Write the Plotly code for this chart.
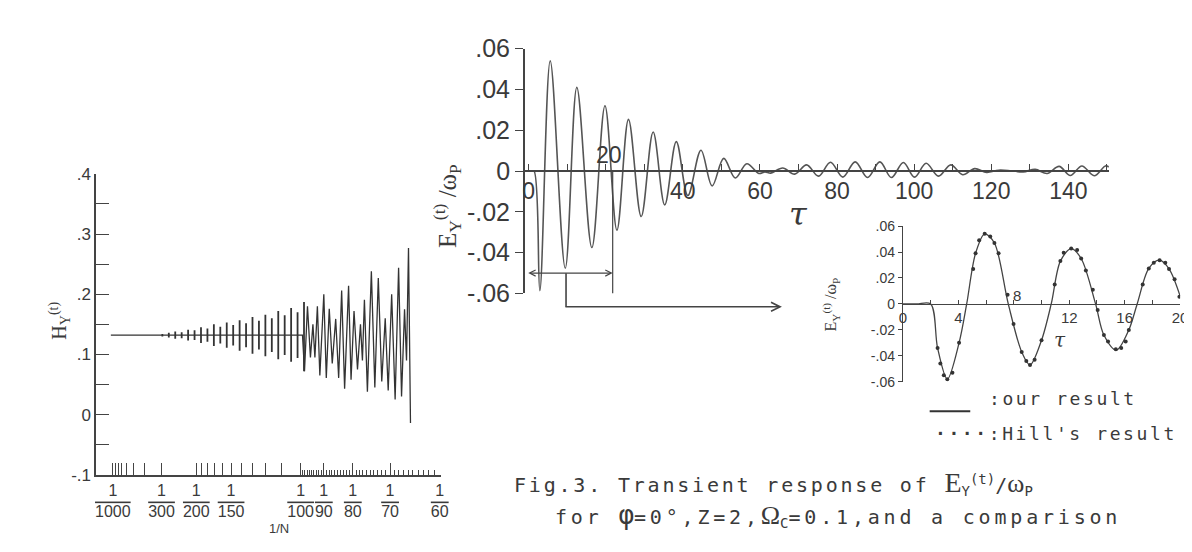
import plotly.graph_objects as go

W, H = 1192, 552
def px(x): return x / W
def py(y): return 1 - y / H

INK = "#3a3a3a"
SANS = "Liberation Sans"

# ---------------- left panel: H_Y^(t) versus 1/N ----------------
# continuous trace: flat start, centre line, then the large late oscillations
left_inv_n = [
    0.000905, 0.002804, 0.003279, 0.010090, 0.010185, 0.010328, 0.010470, 0.010589, 0.010684, 0.010803,
    0.010921, 0.011111, 0.011230, 0.011372, 0.011515, 0.011681, 0.011823, 0.011966, 0.012108, 0.012298,
    0.012416, 0.012559, 0.012725, 0.012868, 0.012962, 0.013057, 0.013200, 0.013390, 0.013556, 0.013722,
    0.013888, 0.014054, 0.014197, 0.014363, 0.014529, 0.014695, 0.014837, 0.014980, 0.015075, 0.015170,
    0.015265,
]
left_h = [
    0.132, 0.132, 0.132, 0.132, 0.072, 0.180, 0.095, 0.150, 0.095, 0.180,
    0.065, 0.200, 0.061, 0.176, 0.085, 0.159, 0.061, 0.206, 0.043, 0.214,
    0.058, 0.172, 0.075, 0.150, 0.090, 0.191, 0.038, 0.238, 0.045, 0.227,
    0.055, 0.160, 0.040, 0.200, 0.025, 0.244, 0.030, 0.175, 0.090, 0.277,
    -0.014,
]
# dense early oscillation: one bar per burst (1/N position, upper and lower extreme)
left_bar_inv_n = [0.0033735, 0.0036821, 0.0039906, 0.0042992, 0.0046077, 0.0049163, 0.0052248,
                  0.0055334, 0.0058419, 0.0061505, 0.0064590, 0.0067676, 0.0070762, 0.0073847,
                  0.0076933, 0.0080018, 0.0083104, 0.0086189, 0.0089275, 0.0092360, 0.0095446,
                  0.0098532, 0.0101617]
left_bar_top = [0.134, 0.136, 0.138, 0.137, 0.141, 0.140, 0.145, 0.143, 0.150, 0.146, 0.153,
                0.149, 0.157, 0.152, 0.162, 0.156, 0.166, 0.160, 0.172, 0.165, 0.177, 0.170, 0.187]
left_bar_bottom = [0.130, 0.128, 0.126, 0.127, 0.123, 0.124, 0.119, 0.121, 0.114, 0.118, 0.111,
                   0.115, 0.106, 0.112, 0.101, 0.108, 0.097, 0.104, 0.092, 0.099, 0.088, 0.094, 0.072]

tick_denoms = [1000, 900, 800, 700, 600, 500, 400, 300, 200, 190, 180, 170, 160,
               150, 140, 130, 120, 110, 100, 90, 80, 70, 60]
labeled_denoms = [1000, 300, 200, 150, 100, 90, 80, 70, 60]
minor_denoms = [n for n in range(61, 100) if n % 10 != 0]
left_yticks = [-0.1, -0.05, 0.0, 0.05, 0.1, 0.15, 0.2, 0.25, 0.3, 0.35, 0.4]
left_ylabels = ["-.1", "", "0", "", ".1", "", ".2", "", ".3", "", ".4"]

# ---------------- main panel: E_Y^(t)/omega_P versus tau ----------------
main_tau = [0, 0.7, 1.4, 2.9, 5.6, 9.5, 12.5, 16.4, 19.8, 22.9, 25.9,
            29.2, 32.3, 35.3, 38.3, 41.3, 44.7, 47.6, 50.6, 53.6, 56.6,
            59.7, 61.3, 62.8, 65.9, 69.0, 72.1, 75.2, 78.3, 81.5, 84.7,
            87.9, 91.1, 94.1, 97.2, 100.1, 103.1, 106.3, 109.5, 112.6, 115.7,
            118.8, 121.9, 125.2, 128.3, 131.4, 134.5, 137.6, 140.5, 143.5, 146.7,
            149.6, 150.5]
main_e = [0, 0, 0, -0.0586, 0.054, -0.0476, 0.041, -0.0375, 0.032, -0.029, 0.0253,
          -0.0223, 0.0191, -0.0166, 0.0144, -0.012, 0.0102, -0.0073, 0.0062, -0.0034, 0.0036,
          -0.0012, -0.0004, -0.001, 0.0015, -0.0015, 0.003, -0.0025, 0.0043, -0.003, 0.0045,
          -0.0032, 0.0045, -0.0032, 0.0042, -0.003, 0.0038, -0.0025, 0.003, -0.0018, 0.0012,
          -0.0007, 0.0004, 0.0001, -0.0004, 0.0008, -0.0012, 0.0023, -0.0022, 0.0025, -0.0023,
          0.0025, 0.002]
main_xticks = list(range(0, 151, 10))
main_xlabeled = [0, 40, 60, 80, 100, 120, 140]
e_ticks = [-0.06, -0.04, -0.02, 0.0, 0.02, 0.04, 0.06]
e_labels = ["-.06", "-.04", "-.02", "0", ".02", ".04", ".06"]

# ---------------- inset: 0 <= tau <= 20 ----------------
inset_tau = [0, 1.0, 2.0, 2.5, 3.2, 4.05, 4.6, 5.24, 5.9, 6.6, 7.6,
             8.57, 9.17, 10.0, 10.7, 11.36, 12.14, 12.86, 13.9, 14.5, 15.4,
             16.3, 16.9, 17.74, 18.5, 19.2, 20.0]
inset_e = [0, 0, 0, -0.034, -0.058, -0.030, 0, 0.039, 0.054, 0.047, 0,
           -0.037, -0.047, -0.028, 0, 0.033, 0.0427, 0.035, 0, -0.024, -0.0356,
           -0.020, 0, 0.0274, 0.0337, 0.027, 0.006]
hill_tau = [2.5, 2.7, 2.95, 3.2, 3.57, 4.05, 5.07, 5.24, 5.5, 5.9, 6.3, 6.6, 6.9,
            7.55, 7.98, 8.57, 8.9, 9.17, 9.5, 10.0, 10.95, 11.36, 11.6, 12.14, 12.57,
            12.86, 13.2, 13.7, 14.05, 14.5, 14.8, 15.36, 15.75, 16.07, 16.3, 17.3,
            17.74, 18.1, 18.52, 18.93, 19.2, 19.6, 19.95]
hill_e = [-0.034, -0.046, -0.055, -0.058, -0.053, -0.030, 0.027, 0.039, 0.049, 0.054,
          0.052, 0.047, 0.039, 0.007, -0.0155, -0.037, -0.044, -0.047, -0.043, -0.028,
          0.0150, 0.033, 0.0395, 0.0427, 0.0415, 0.035, 0.0257, 0.011, -0.0046, -0.024,
          -0.029, -0.035, -0.034, -0.029, -0.020, 0.0150, 0.0274, 0.0318, 0.0337, 0.0318,
          0.027, 0.019, 0.0056]
inset_xticks = list(range(0, 21, 2))
inset_xlabeled = [0, 4, 12, 16, 20]

fig = go.Figure()
fig.add_trace(go.Scatter(x=left_inv_n, y=left_h, mode="lines", xaxis="x", yaxis="y",
                         line=dict(color="#333", width=1.3)))
bx, byv = [], []
for u, top, bot in zip(left_bar_inv_n, left_bar_top, left_bar_bottom):
    bx += [u, u, None]
    byv += [bot, top, None]
fig.add_trace(go.Scatter(x=bx, y=byv, mode="lines", xaxis="x", yaxis="y",
                         line=dict(color="#333", width=1.8), connectgaps=False))
fig.add_trace(go.Scatter(x=main_tau, y=main_e, mode="lines", xaxis="x2", yaxis="y2",
                         line=dict(color="#555", width=1.6, shape="spline", smoothing=1.0)))
fig.add_trace(go.Scatter(x=inset_tau, y=inset_e, mode="lines", xaxis="x3", yaxis="y3",
                         line=dict(color="#444", width=1.3, shape="spline", smoothing=0.9)))
fig.add_trace(go.Scatter(x=hill_tau, y=hill_e, mode="markers", xaxis="x3", yaxis="y3",
                         marker=dict(color="#333", size=4)))

y2dom = [py(286), py(28)]
y3dom = [py(379), py(215)]

common = dict(showgrid=False, zeroline=False, showline=True, linecolor="#444",
              tickcolor="#444", tickangle=0)

fig.update_layout(
    width=W, height=H, margin=dict(l=0, r=0, t=0, b=0),
    paper_bgcolor="white", plot_bgcolor="rgba(0,0,0,0)", showlegend=False,
    xaxis=dict(common, domain=[px(85), px(433)], range=[0.0002, 0.01671], anchor="y",
               linewidth=1.5, ticks="inside", ticklen=12, tickwidth=1.2,
               tickvals=[1 / n for n in tick_denoms],
               ticktext=[("1<br><span style='text-decoration:overline'>%d</span>" % n)
                         if n in labeled_denoms else "" for n in tick_denoms],
               tickfont=dict(family=SANS, size=16, color=INK),
               minor=dict(tickvals=[1 / n for n in minor_denoms], ticks="inside",
                          ticklen=5, tickwidth=1, tickcolor="#444")),
    yaxis=dict(common, domain=[py(477), py(160)], range=[-0.1, 0.4], anchor="x",
               linewidth=1.5, ticks="inside", ticklen=13, tickwidth=1.2,
               tickvals=left_yticks, ticktext=left_ylabels,
               tickfont=dict(family=SANS, size=17, color=INK)),
    xaxis2=dict(common, domain=[px(518), px(1108)], range=[-1, 150.5], anchor="free",
                position=(y2dom[0] + y2dom[1]) / 2, linewidth=1.5, ticks="inside",
                ticklen=6, tickwidth=1.2, tickvals=main_xticks,
                ticktext=[str(v) if v in main_xlabeled else "" for v in main_xticks],
                tickfont=dict(family=SANS, size=23, color=INK)),
    yaxis2=dict(common, domain=y2dom, range=[-0.06, 0.06], anchor="x2", linewidth=1.5,
                ticks="outside", ticklen=8, tickwidth=1.2, tickvals=e_ticks, ticktext=e_labels,
                tickfont=dict(family=SANS, size=25, color=INK)),
    xaxis3=dict(common, domain=[px(900), px(1180)], range=[0, 20], anchor="free",
                position=(y3dom[0] + y3dom[1]) / 2, linewidth=1.3, ticks="inside",
                ticklen=4, tickwidth=1, tickvals=inset_xticks,
                ticktext=[str(v) if v in inset_xlabeled else "" for v in inset_xticks],
                tickfont=dict(family=SANS, size=15, color=INK)),
    yaxis3=dict(common, domain=y3dom, range=[-0.06, 0.06], anchor="x3", linewidth=1.3,
                ticks="outside", ticklen=4, tickwidth=1, tickvals=e_ticks, ticktext=e_labels,
                tickfont=dict(family=SANS, size=14, color=INK)),
)

ann = []
def note(text, x, y, xref="paper", yref="paper", size=18, family=SANS, **kw):
    d = dict(text=text, x=x, y=y, xref=xref, yref=yref, showarrow=False,
             font=dict(family=family, size=size, color=INK))
    d.update(kw)
    ann.append(d)

# main panel extra labels
note("20", 20.8, 0.0079, "x2", "y2", size=23)
note("<i>τ</i>", 70, -0.021, "x2", "y2", size=32, family="DejaVu Serif")
note("E<sub>Y</sub><sup>(t)</sup> /ω<sub>P</sub>", px(440), py(148), size=25,
     family="Liberation Serif", textangle=-90)
# left panel labels
note("H<sub>Y</sub><sup>(t)</sup>", px(32), py(315), size=20, family="Liberation Serif",
     textangle=-90)
note("1/N", px(258), py(544), size=13)
# inset labels
note("8", 8.2, 0.0066, "x3", "y3", size=15)
note("<i>τ</i>", 11.3, -0.0278, "x3", "y3", size=20, family="DejaVu Serif")
note("E<sub>Y</sub><sup>(t)</sup> /ω<sub>P</sub>", px(840), py(298), size=16,
     family="Liberation Serif", textangle=-90)
# legend
MONO = "DejaVu Sans Mono"
note("<span style='letter-spacing:2.6px'>:our result</span>", px(985), py(410), size=18,
     family=MONO, xanchor="left")
note("<span style='letter-spacing:2.6px'><b>····</b>:Hill's result</span>", px(930), py(447),
     size=18, family=MONO, xanchor="left")
# caption
note("<span style='letter-spacing:2.8px'>Fig.3. Transient response of </span>"
     "<span style='font-family:Liberation Serif;font-size:28px'>E</span><sub>Y</sub>"
     "<sup>(t)</sup>/<span style='font-family:Liberation Serif;font-size:26px'>ω</span>"
     "<sub>P</sub>", px(505), py(505), size=20, family=MONO, xanchor="left")
note("<span style='letter-spacing:3.8px'>for </span><span style='font-size:26px'>φ</span>"
     "<span style='letter-spacing:3.8px'>=0°,Z=2,</span>"
     "<span style='font-family:Liberation Serif;font-size:26px'>Ω</span><sub>C</sub>"
     "<span style='letter-spacing:3.8px'>=0.1,and a comparison</span>",
     px(546), py(538), size=20, family=MONO, xanchor="left")

# arrows
ann.append(dict(text="", x=21.8, y=-0.050, xref="x2", yref="y2", axref="x2", ayref="y2",
                ax=-0.5, ay=-0.050, showarrow=True, arrowhead=5, arrowside="end+start",
                arrowsize=1, arrowwidth=1.2, arrowcolor="#444", standoff=0, startstandoff=0,
                font=dict(size=1)))
ann.append(dict(text="", x=9.7, y=py(300), xref="x2", yref="paper", axref="pixel",
                ayref="pixel", ax=0, ay=-35, showarrow=True, arrowhead=0, arrowwidth=1.6,
                arrowcolor="#444", standoff=0, font=dict(size=1)))
ann.append(dict(text="", x=65.7, y=py(300), xref="x2", yref="paper", axref="pixel",
                ayref="pixel", ax=-218, ay=0, showarrow=True, arrowhead=5, arrowsize=1.1,
                arrowwidth=1.6, arrowcolor="#444", standoff=0, font=dict(size=1)))

fig.update_layout(
    annotations=ann,
    shapes=[
        dict(type="line", xref="x2", yref="y2", x0=21.8, x1=21.8, y0=0, y1=-0.06,
             line=dict(color="#444", width=1.2)),
        dict(type="line", xref="paper", yref="paper", x0=px(927), x1=px(968),
             y0=py(410), y1=py(410), line=dict(color="#333", width=2)),
    ],
)

fig.write_html("out.html")
